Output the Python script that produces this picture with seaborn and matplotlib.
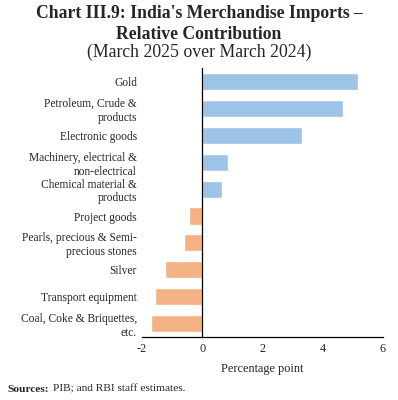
import numpy as np
import pandas as pd
import seaborn as sns
from matplotlib import pyplot as plt
from matplotlib.ticker import FixedLocator

categories = [
    "Gold",
    "Petroleum, Crude &\nproducts",
    "Electronic goods",
    "Machinery, electrical &\nnon-electrical",
    "Chemical material &\nproducts",
    "Project goods",
    "Pearls, precious & Semi-\nprecious stones",
    "Silver",
    "Transport equipment",
    "Coal, Coke & Briquettes,\netc.",
]
values = [5.17, 4.68, 3.31, 0.87, 0.67, -0.44, -0.61, -1.24, -1.57, -1.72]
x_ticks = [-2, 0, 2, 4, 6]

BLUE = "#9DC3E6"
ORANGE = "#F4B183"

df = pd.DataFrame({"category": categories, "value": values})
df["sign"] = np.where(df["value"] >= 0, "pos", "neg")

sns.set_style("white")
plt.rcParams["font.family"] = ["Liberation Serif", "DejaVu Serif"]

fig = plt.figure(figsize=(3.98, 4.0), dpi=100)
ax_left, ax_width = 0.357, 0.605
ax = fig.add_axes([ax_left, 0.158, ax_width, 0.671])

sns.barplot(
    data=df, x="value", y="category", hue="sign",
    palette={"pos": BLUE, "neg": ORANGE},
    dodge=False, width=0.64, legend=False, ax=ax,
    saturation=1,
)

ax.set_xlim(-2, 6)
ax.set_ylim(len(categories) - 0.5, -0.5)
ax.set_xticks(x_ticks)
ax.set_xticklabels([str(t) for t in x_ticks], fontsize=8.8)
ax.set_xlabel("Percentage point", fontsize=8.8, labelpad=6)
ax.set_ylabel("")

# y spine sits at zero; push the category labels out past the frame edge
spine_offset_px = ax_width * 398 * 2 / 8  # distance from x=-2 to x=0
label_pad = (spine_offset_px + 5) * 0.72
ax.spines["left"].set_position(("data", 0))
ax.tick_params(axis="y", which="major", length=0, labelsize=8.3, pad=label_pad)
ax.yaxis.set_minor_locator(FixedLocator(np.arange(-0.5, len(categories) - 0.5, 1)))
ax.tick_params(axis="y", which="minor", length=3, width=0.8, direction="out")
ax.tick_params(axis="x", length=3, width=0.8, direction="out", pad=1.5)

for side in ["top", "right"]:
    ax.spines[side].set_visible(False)
for side in ["left", "bottom"]:
    ax.spines[side].set_color("black")
    ax.spines[side].set_linewidth(0.9)

fig.text(0.5, 0.965, "Chart III.9: India's Merchandise Imports \u2013",
         ha="center", va="center", fontsize=12.7, fontweight="bold")
fig.text(0.5, 0.914, "Relative Contribution",
         ha="center", va="center", fontsize=12.7, fontweight="bold")
fig.text(0.5, 0.868, "(March 2025 over March 2024)",
         ha="center", va="center", fontsize=12.8)

fig.text(0.018, 0.027, "Sources:", ha="left", va="center",
         fontsize=8.2, fontweight="bold")
fig.text(0.132, 0.027, "PIB; and RBI staff estimates.", ha="left",
         va="center", fontsize=8.2)

plt.savefig("out.png", dpi=100)
plt.close(fig)
